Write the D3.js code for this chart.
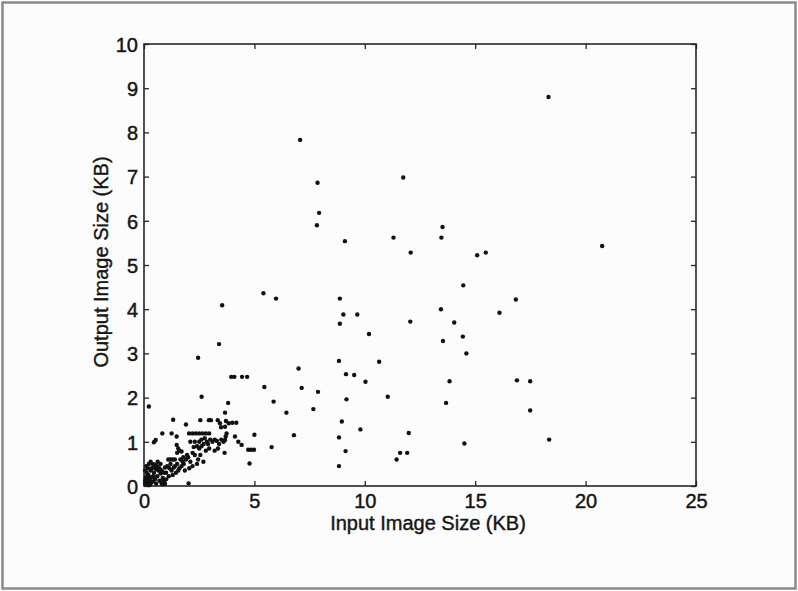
<!DOCTYPE html>
<html>
<head>
<meta charset="utf-8">
<script src="https://cdn.jsdelivr.net/npm/d3@7/dist/d3.min.js"></script>
<style>
  html, body { margin: 0; padding: 0; background: #fcfcfc; }
  svg { display: block; }
</style>
</head>
<body>
<script>
// ---- Data ----
const xTicks = [0, 5, 10, 15, 20, 25];
const yTicks = [0, 1, 2, 3, 4, 5, 6, 7, 8, 9, 10];
const xLabel = "Input Image Size (KB)";
const yLabel = "Output Image Size (KB)";

// scattered points (input KB, output KB)
const sparsePoints = [
  [18.32, 8.80], [7.07, 7.83], [7.86, 6.86], [11.74, 6.98], [7.93, 6.18], [7.83, 5.90],
  [9.10, 5.54], [11.30, 5.62], [13.52, 5.86], [13.47, 5.62], [12.08, 5.28], [15.09, 5.22],
  [15.48, 5.28], [20.75, 5.43], [14.46, 4.54], [5.41, 4.36], [5.98, 4.24], [8.87, 4.24],
  [3.54, 4.09], [16.84, 4.22], [9.03, 3.88], [9.66, 3.88], [8.87, 3.67], [13.45, 4.00],
  [16.10, 3.92], [12.06, 3.72], [14.05, 3.70], [10.19, 3.44], [14.44, 3.38], [3.40, 3.21],
  [13.54, 3.28], [14.60, 3.00], [2.45, 2.90], [8.83, 2.83], [10.65, 2.81], [7.00, 2.66],
  [9.15, 2.53], [9.52, 2.51], [3.95, 2.47], [4.09, 2.47], [4.44, 2.47], [4.67, 2.47],
  [16.89, 2.39], [17.49, 2.37], [13.84, 2.37], [10.03, 2.36], [5.45, 2.24], [7.14, 2.22],
  [7.88, 2.13], [2.61, 2.02], [11.04, 2.02], [9.17, 1.96], [5.87, 1.91], [13.68, 1.88],
  [3.81, 1.88], [0.22, 1.80], [6.45, 1.66], [7.67, 1.74], [17.49, 1.71], [3.67, 1.66],
  [1.32, 1.50], [8.96, 1.46], [9.80, 1.28], [11.99, 1.20], [18.35, 1.05], [14.51, 0.96],
  [8.83, 1.10], [6.79, 1.15], [5.00, 1.16], [5.78, 0.88], [9.13, 0.79], [11.60, 0.75],
  [11.92, 0.75], [11.44, 0.60], [4.78, 0.51], [8.83, 0.45], [2.02, 0.06]
];

// dense cluster near the origin
const clusterPoints = [
  [0.05, 0.05], [0.10, 0.15], [0.15, 0.08], [0.20, 0.25], [0.12, 0.30], [0.25, 0.12],
  [0.30, 0.05], [0.35, 0.20], [0.40, 0.10], [0.18, 0.40], [0.30, 0.35], [0.45, 0.30],
  [0.50, 0.15], [0.55, 0.05], [0.60, 0.22], [0.65, 0.35], [0.70, 0.12], [0.75, 0.28],
  [0.80, 0.05], [0.85, 0.18], [0.90, 0.10], [0.95, 0.05], [0.08, 0.20], [0.22, 0.50],
  [0.30, 0.55], [0.40, 0.50], [0.50, 0.48], [0.60, 0.45], [0.45, 0.42], [0.55, 0.38],
  [0.05, 0.35], [0.10, 0.45], [0.25, 0.02], [0.35, 0.40], [0.70, 0.40], [0.80, 0.35],
  [0.90, 0.30], [0.15, 0.20], [0.28, 0.18], [0.42, 0.22], [0.05, 0.12], [0.18, 0.02],
  [1.00, 0.30], [1.05, 0.45], [1.10, 0.60], [1.20, 0.60], [1.30, 0.60], [1.40, 0.60],
  [1.15, 0.40], [1.25, 0.35], [1.30, 0.25], [1.40, 0.45], [1.50, 0.50], [1.55, 0.35],
  [1.60, 0.40], [1.70, 0.45], [1.75, 0.55], [1.80, 0.50], [1.65, 0.60], [1.50, 0.75],
  [1.55, 0.85], [1.60, 0.80], [1.70, 0.78], [1.48, 0.93], [1.90, 0.60], [1.95, 0.70],
  [1.85, 0.35], [1.20, 0.50], [1.35, 0.42], [0.85, 0.05], [0.88, 0.12],
  [2.00, 0.65], [2.10, 0.55], [2.20, 0.75], [2.30, 0.70], [2.40, 0.90], [2.50, 0.85],
  [2.45, 0.60], [2.60, 0.90], [2.70, 0.95], [2.69, 0.55], [2.80, 0.80], [2.90, 0.95],
  [2.30, 1.00], [2.50, 1.00], [2.60, 1.05], [2.75, 1.08], [2.85, 1.00], [3.00, 1.05],
  [2.95, 0.85], [2.20, 0.45], [2.40, 0.50],
  [3.10, 1.00], [3.20, 1.05], [3.30, 1.02], [3.40, 0.95], [3.50, 1.05], [3.65, 0.75],
  [3.74, 1.19], [3.70, 1.12], [3.67, 1.04], [3.60, 1.00], [3.20, 0.80], [3.35, 0.85],
  [2.04, 1.19], [2.20, 1.19], [2.35, 1.19], [2.50, 1.19], [2.65, 1.19], [2.80, 1.19], [2.95, 1.19],
  [0.83, 1.19], [1.25, 1.19], [1.48, 1.12], [0.53, 1.04], [0.45, 0.99], [2.10, 1.00],
  [4.12, 1.12], [4.27, 1.00], [4.42, 0.93], [4.72, 0.82], [4.85, 0.82], [4.98, 0.82],
  [1.90, 1.39], [2.55, 1.49], [2.94, 1.49], [3.03, 1.49], [3.34, 1.49], [3.44, 1.42],
  [3.71, 1.47], [3.84, 1.42], [3.67, 1.34], [4.00, 1.43], [4.18, 1.43], [3.49, 1.33],
  [0.62, 0.55], [0.75, 0.50], [1.00, 0.15], [1.12, 0.22], [0.95, 0.42], [1.45, 0.30],
  [2.05, 0.40], [1.78, 0.65], [2.25, 0.88], [2.55, 0.70]
];

const points = sparsePoints.concat(clusterPoints);

// ---- Layout ----
const W = 798, H = 591;
const plot = { left: 144, right: 696, top: 44, bottom: 486 };

const svg = d3.select("body").append("svg")
  .attr("width", W).attr("height", H);

svg.append("rect").attr("x", 0).attr("y", 0).attr("width", W).attr("height", H)
  .attr("fill", "#fcfcfc");
// outer gray frame
svg.append("rect").attr("x", 2.5).attr("y", 2.5).attr("width", W - 5).attr("height", H - 5)
  .attr("fill", "none").attr("stroke", "#8a8a8a").attr("stroke-width", 2.5);

const x = d3.scaleLinear().domain([0, 25]).range([plot.left, plot.right]);
const y = d3.scaleLinear().domain([0, 10]).range([plot.bottom, plot.top]);

const font = "'Liberation Sans', Arial, Helvetica, sans-serif";
const axisColor = "#262626";
const textColor = "#151515";

// Axes (ticks pointing inward, MATLAB style)
const bottomAxis = svg.append("g").attr("transform", `translate(0,${plot.bottom})`)
  .call(d3.axisBottom(x).tickValues(xTicks).tickSizeInner(-5).tickSizeOuter(0).tickPadding(8));
const topAxis = svg.append("g").attr("transform", `translate(0,${plot.top})`)
  .call(d3.axisTop(x).tickValues(xTicks).tickSizeInner(-5).tickSizeOuter(0).tickFormat(""));
const leftAxis = svg.append("g").attr("transform", `translate(${plot.left},0)`)
  .call(d3.axisLeft(y).tickValues(yTicks).tickSizeInner(-5).tickSizeOuter(0).tickPadding(6));
const rightAxis = svg.append("g").attr("transform", `translate(${plot.right},0)`)
  .call(d3.axisRight(y).tickValues(yTicks).tickSizeInner(-5).tickSizeOuter(0).tickFormat(""));

[bottomAxis, topAxis, leftAxis, rightAxis].forEach(g => {
  g.select(".domain").remove();
  g.selectAll(".tick line").attr("stroke", axisColor).attr("stroke-width", 1.3);
  g.selectAll(".tick text").attr("fill", textColor)
    .attr("stroke", textColor).attr("stroke-width", 0.45)
    .style("font-family", font).style("font-size", "20px");
});
bottomAxis.selectAll(".tick text").attr("dy", "0.72em");
leftAxis.selectAll(".tick text").attr("dy", "0.36em");

// frame
svg.append("rect")
  .attr("x", plot.left).attr("y", plot.top)
  .attr("width", plot.right - plot.left).attr("height", plot.bottom - plot.top)
  .attr("fill", "none").attr("stroke", axisColor).attr("stroke-width", 1.6);

// points
svg.append("g").selectAll("circle").data(points).join("circle")
  .attr("cx", d => x(d[0]))
  .attr("cy", d => y(d[1]))
  .attr("r", 2.2)
  .attr("fill", "#111");

// axis labels
svg.append("text")
  .attr("x", 428).attr("y", 530)
  .attr("text-anchor", "middle")
  .attr("fill", textColor).attr("stroke", textColor).attr("stroke-width", 0.4)
  .style("font-family", font).style("font-size", "20px")
  .text(xLabel);

svg.append("text")
  .attr("transform", `translate(108,${(plot.top + plot.bottom) / 2 - 3}) rotate(-90)`)
  .attr("text-anchor", "middle")
  .attr("fill", textColor).attr("stroke", textColor).attr("stroke-width", 0.4)
  .style("font-family", font).style("font-size", "20px")
  .text(yLabel);
</script>
</body>
</html>
